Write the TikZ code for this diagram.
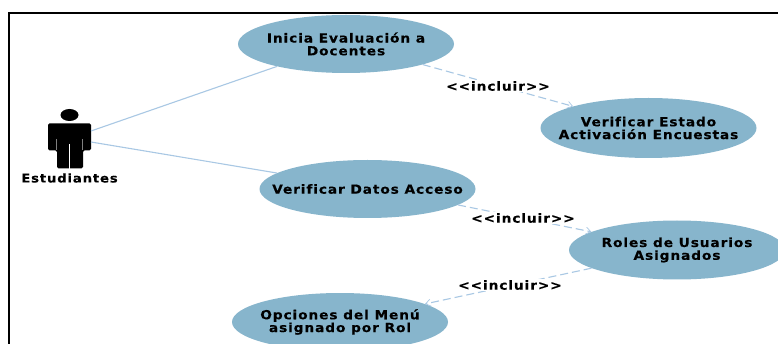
\documentclass[tikz,border=0pt]{standalone}
\usepackage{fontspec}
\defaultfontfeatures{Ligatures=NoCommon}
\setmainfont{DejaVu Sans}[BoldFont={DejaVu Sans Bold},BoldFeatures={FakeStretch=1.1,LetterSpace=7,FakeBold=0.3}]
\usetikzlibrary{shapes.geometric,arrows.meta}
\definecolor{ucfill}{HTML}{87B5CC}
\definecolor{ucline}{HTML}{A9C8E4}
\tikzset{
  usecase/.style={ellipse,fill=ucfill,minimum width=216pt,minimum height=58pt,inner sep=-40pt,align=center,font=\bfseries\fontsize{12.5}{12.8}\selectfont},
  assoc/.style={draw=ucline,line width=1.1pt},
  incl/.style={draw=ucline,line width=1.1pt,dash pattern=on 8pt off 4pt,-{Straight Barb[length=5pt,width=7pt,line width=0.7pt]}},
  stereo/.style={fill=white,inner xsep=1pt,inner ysep=1pt,font=\bfseries\fontsize{12.5}{12.8}\selectfont},
  actorlabel/.style={inner sep=0pt,font=\bfseries\fontsize{12}{12.5}\selectfont}
}
\begin{document}
\begin{tikzpicture}[x=1pt,y=-1pt]
\useasboundingbox (0,0) rectangle (778,344);
\clip (0,0) rectangle (778,344);
\fill[white] (0,0) rectangle (778,344);
\draw[black,line width=1.6pt] (9,350) -- (9,13) -- (785,13);
% actor
\fill[black] (69.5,115) ellipse (9 and 6);
\fill[black,rounded corners=1.5pt] (48,150.5) -- (48,123.5) -- (91,123.5) -- (91,150.5) -- (83,150.5) -- (83,168.5) -- (57,168.5) -- (57,150.5) -- cycle;
\draw[white,line width=0.8pt] (69.5,144) -- (69.5,169);
\draw[gray,line width=0.5pt] (56.5,139) -- (56.5,150) (82.5,139) -- (82.5,150);
\coordinate (actorA) at (91,131);
\coordinate (actorB) at (91,142);
\node[actorlabel] (actorname) at (69.5,178) {Estudiantes};
% use cases
\node[usecase] (e1) at (346,44) {Inicia Evaluación a\\Docentes};
\node[usecase,minimum height=60pt] (e2) at (648.5,128) {Verificar Estado\\Activación Encuestas};
\node[usecase] (e3) at (367.5,189) {Verificar Datos Acceso};
\node[usecase,minimum height=59pt] (e4) at (677,250) {Roles de Usuarios\\Asignados};
\node[usecase] (e5) at (340,322) {Opciones del Menú\\asignado por Rol};
% connectors
\draw[assoc] (actorA) -- (e1.198);
\draw[assoc] (actorB) -- (e3.170);
\draw[incl] (e1.-15) -- (e2.164);
\draw[incl] (e3.-10) -- (e4.168);
\draw[incl] (e4.192) -- (e5.12.5);
% labels
\node[stereo] (l1) at (498,86) {{<}{<}incluir{>}{>}};
\node[stereo] (l2) at (523,218) {{<}{<}incluir{>}{>}};
\node[stereo] (l3) at (510,285) {{<}{<}incluir{>}{>}};
\end{tikzpicture}
\end{document}
